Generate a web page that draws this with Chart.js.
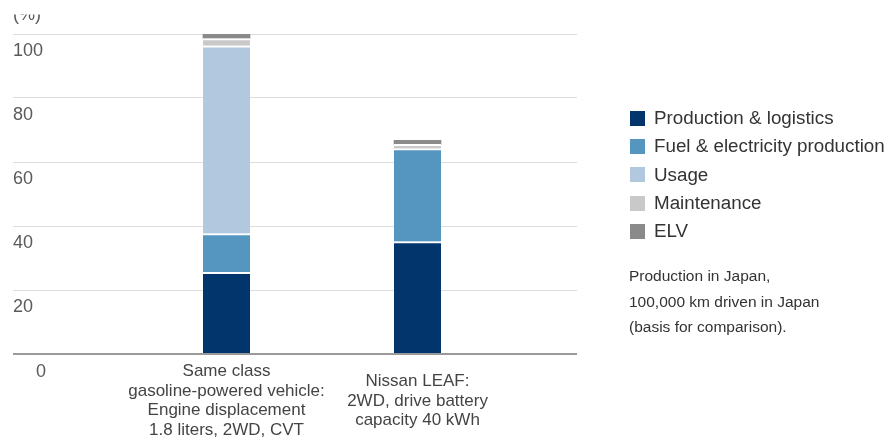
<!DOCTYPE html>
<html>
<head>
<meta charset="utf-8">
<script src="https://cdn.jsdelivr.net/npm/chart.js@4"></script>
<style>
  body { margin: 0; background: #fff; font-family: "Liberation Sans", Arial, sans-serif; }
  #wrap { position: relative; width: 890px; height: 438px; }
  #legend { position: absolute; left: 630px; top: 104px; color: #333; font-size: 18.8px; }
  .legend-item { display: flex; align-items: center; height: 28.3px; }
  .legend-box { width: 15px; height: 15px; margin-right: 9px; }
  #note { position: absolute; left: 629px; top: 263px; color: #333; font-size: 15.5px; line-height: 25.5px; }
</style>
</head>
<body>
<div id="wrap">
  <canvas id="lcaChart" width="890" height="438"></canvas>
  <div id="legend"></div>
  <div id="note"></div>
</div>
<script>
/* Chart data */

const categories = [
    ["Same class", "gasoline-powered vehicle:", "Engine displacement", "1.8 liters, 2WD, CVT"],
    ["Nissan LEAF:", "2WD, drive battery", "capacity 40 kWh"]
];
const seriesNames = ["Production & logistics", "Fuel & electricity production", "Usage", "Maintenance", "ELV"];
const productionLogistics = [25.5, 35.1];
const fuelElectricity = [12.1, 29.1];
const usage = [58.7, 0];
const maintenance = [2.3, 1.3];
const elv = [1.3, 1.3];
const yTicks = [0, 20, 40, 60, 80, 100];
const unitLabel = "(%)";
const noteLines = ["Production in Japan,", "100,000 km driven in Japan", "(basis for comparison)."];

const seriesColors = ["#02356b", "#5496c0", "#b2c8df", "#c9c9c9", "#8a8a8a"];
const seriesValues = [productionLogistics, fuelElectricity, usage, maintenance, elv];

/* Datasets */

const datasets = seriesNames.map((name, s) => {
    const isTop = s === seriesNames.length - 1;
    return {
        label: name,
        data: categories.map((cat, i) => ({ x: i + 1, y: seriesValues[s][i] })),
        backgroundColor: seriesColors[s],
        borderColor: "#ffffff",
        borderWidth: isTop ? 0 : { top: 2, right: 0, bottom: 0, left: 0 },
        borderSkipped: "start",
        barThickness: 47
    };
});

/* Axis text plugin */

const axisText = {
    id: "axisText",
    afterDraw(chart) {
        const ctx = chart.ctx;
        const yScale = chart.scales.y;
        const xScale = chart.scales.x;

        ctx.save();
        ctx.fillStyle = "#5a5a5a";
        ctx.font = "18px 'Liberation Sans', Arial, sans-serif";
        ctx.textAlign = "left";
        ctx.textBaseline = "alphabetic";

        yTicks.forEach(value => {
            const y = yScale.getPixelForValue(value);
            if (value === 0) {
                ctx.fillText(String(value), 36, y + 23);
            } else {
                ctx.fillText(String(value), 13, y + 21.5);
            }
        });

        // unit label, top part cut off like the source
        ctx.save();
        ctx.beginPath();
        ctx.rect(0, 14.5, 120, 20);
        ctx.clip();
        ctx.fillText(unitLabel, 13, 19.5);
        ctx.restore();

        ctx.fillStyle = "#444";
        ctx.font = "17px 'Liberation Sans', Arial, sans-serif";
        ctx.textAlign = "center";
        const pitch = 19.8;
        categories.forEach((lines, i) => {
            const x = xScale.getPixelForValue(i + 1);
            const firstY = 405.5 - (lines.length - 1) * pitch / 2;
            lines.forEach((line, j) => {
                ctx.fillText(line, x, firstY + j * pitch);
            });
        });
        ctx.restore();
    }
};

/* Chart */

new Chart(document.querySelector("#lcaChart"), {
    type: "bar",
    data: { datasets },
    options: {
        responsive: false,
        animation: false,
        devicePixelRatio: 1,
        layout: {
            padding: { left: 13, right: 313, top: 34, bottom: 84 }
        },
        plugins: {
            legend: { display: false },
            tooltip: { enabled: false }
        },
        scales: {
            x: {
                type: "linear",
                stacked: true,
                display: false,
                offset: false,
                min: -0.1178,
                max: 2.835
            },
            y: {
                stacked: true,
                min: 0,
                max: 100,
                ticks: { display: false, stepSize: 20 },
                border: { display: false },
                grid: {
                    drawTicks: false,
                    color: ctx => ctx.tick.value === 0 ? "#9a9a9a" : "#dddddd",
                    lineWidth: ctx => ctx.tick.value === 0 ? 2 : 1
                }
            }
        }
    },
    plugins: [axisText]
});

/* Legend and note */

const legendEl = document.querySelector("#legend");
seriesNames.forEach((name, s) => {
    const item = document.createElement("div");
    item.classList.add("legend-item");
    item.innerHTML = `<span class="legend-box" style="background:${seriesColors[s]}"></span><span>${name.replace("&", "&amp;")}</span>`;
    legendEl.appendChild(item);
});

document.querySelector("#note").innerHTML = noteLines.join("<br>");
</script>
</body>
</html>
